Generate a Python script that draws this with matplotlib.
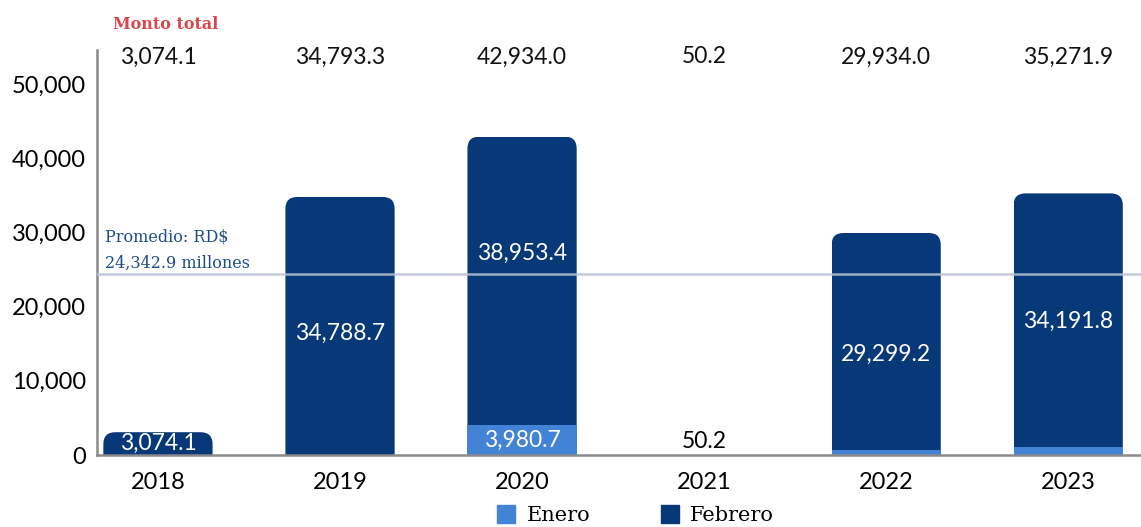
import matplotlib.pyplot as plt
import numpy as np
from matplotlib.patches import FancyBboxPatch, Patch

# Datos (millones RD$)
anios   = ["2018", "2019", "2020", "2021", "2022", "2023"]
enero   = [0.0, 4.6, 3980.7, 50.2, 634.8, 1080.1]
febrero = [3074.1, 34788.7, 38953.4, 0.0, 29299.2, 34191.8]
totales = ["3,074.1", "34,793.3", "42,934.0", "50.2", "29,934.0", "35,271.9"]
lbl_feb = ["3,074.1", "34,788.7", "38,953.4", "", "29,299.2", "34,191.8"]
lbl_ene = ["", "", "3,980.7", "50.2", "", ""]
promedio = 24342.9

# desplazamiento vertical de las etiquetas de febrero (puntos)
desp_feb = [0, -5, 20, 0, -9, -1]

c_ene = "#4383d6"
c_feb = "#073877"
fuente = "Lato"
serif = "DejaVu Serif"

fig = plt.figure(figsize=(11.41, 5.27), dpi=100)
ax = fig.add_axes([0.085, 0.1366, 0.915, 0.7685])

x = np.arange(len(anios))
ancho = 0.6
ax.set_xlim(-0.335, 5.4)
ax.set_ylim(0, 54600)

b1 = ax.bar(x, enero, ancho, color=c_ene, lw=0, zorder=2)
b2 = ax.bar(x, febrero, ancho, bottom=enero, color=c_feb, lw=0, zorder=2)

# esquinas redondeadas solo arriba: caja redondeada recortada por la barra
fig.canvas.draw()
bb = ax.get_window_extent()
x_pp = (ax.get_xlim()[1] - ax.get_xlim()[0]) / bb.width
y_pp = (ax.get_ylim()[1] - ax.get_ylim()[0]) / bb.height
r = 12 * x_pp
asp = y_pp / x_pp
for p in b2:
    h = p.get_height()
    if h <= 0:
        continue
    x0, y0, w = p.get_x(), p.get_y(), p.get_width()
    p.set_alpha(0)
    extra = r * asp * 1.5
    fb = FancyBboxPatch((x0, y0 - extra), w, h + extra,
                        boxstyle=f"round,pad=0,rounding_size={r}",
                        mutation_aspect=asp, color=c_feb, lw=0, zorder=2)
    ax.add_patch(fb)
    fb.set_clip_path(p)

# etiquetas dentro de las barras
for i in x:
    if lbl_feb[i]:
        ax.annotate(lbl_feb[i], (i, enero[i] + febrero[i] / 2),
                    xytext=(0, desp_feb[i]), textcoords="offset points",
                    ha="center", va="center", color="white", fontsize=16.5,
                    family=fuente, zorder=4)
    if lbl_ene[i]:
        if enero[i] > 1000:
            ax.text(i, enero[i] / 2, lbl_ene[i], ha="center", va="center",
                    color="white", fontsize=16.5, family=fuente, zorder=4)
        else:
            ax.text(i, enero[i] + 300, lbl_ene[i], ha="center", va="bottom",
                    color="black", fontsize=16.5, family=fuente, zorder=4)

# montos totales arriba
tr = ax.get_xaxis_transform()
for i in x:
    ax.text(i, 0.983, totales[i], transform=tr, ha="center", va="center",
            fontsize=16.5, family=fuente, color="#111111")
ax.text(0.04, 1.064, "Monto total", transform=tr, ha="center", va="center",
        fontsize=11.5, family=serif, color="#d9474e", fontweight="bold")

# promedio
ax.axhline(promedio, color="#b7c3d5", lw=1.8, zorder=3, alpha=0.85)
ax.text(-0.29, promedio + 300, "Promedio: RD$\n24,342.9 millones", ha="left", va="bottom",
        fontsize=11.5, family=serif, color="#1d4c8a", linespacing=1.75, zorder=4)

ax.set_xticks(x)
ax.set_xticklabels(anios, fontsize=17, family=fuente)
ax.set_yticks(np.arange(0, 50001, 10000))
ax.set_yticklabels([f"{v:,}" for v in range(0, 50001, 10000)], fontsize=17, family=fuente)
ax.tick_params(axis="x", length=0, pad=12)
ax.tick_params(axis="y", length=0, pad=8)
for s in ["top", "right"]:
    ax.spines[s].set_visible(False)
ax.spines["left"].set_color("#8a8a8a")
ax.spines["left"].set_linewidth(1.8)
ax.spines["bottom"].set_color("#8a8a8a")
ax.spines["bottom"].set_linewidth(1.8)
ax.spines["bottom"].set_zorder(5)

handles = [Patch(color=c_ene, label="Enero"), Patch(color=c_feb, label="Febrero")]
fig.legend(handles=handles, loc="center", bbox_to_anchor=(0.557, 0.022), ncol=2,
           frameon=False, prop={"family": serif, "size": 15}, handlelength=0.85,
           handleheight=0.9, handletextpad=0.55, columnspacing=3.4)

fig.savefig("out.png", dpi=100)
